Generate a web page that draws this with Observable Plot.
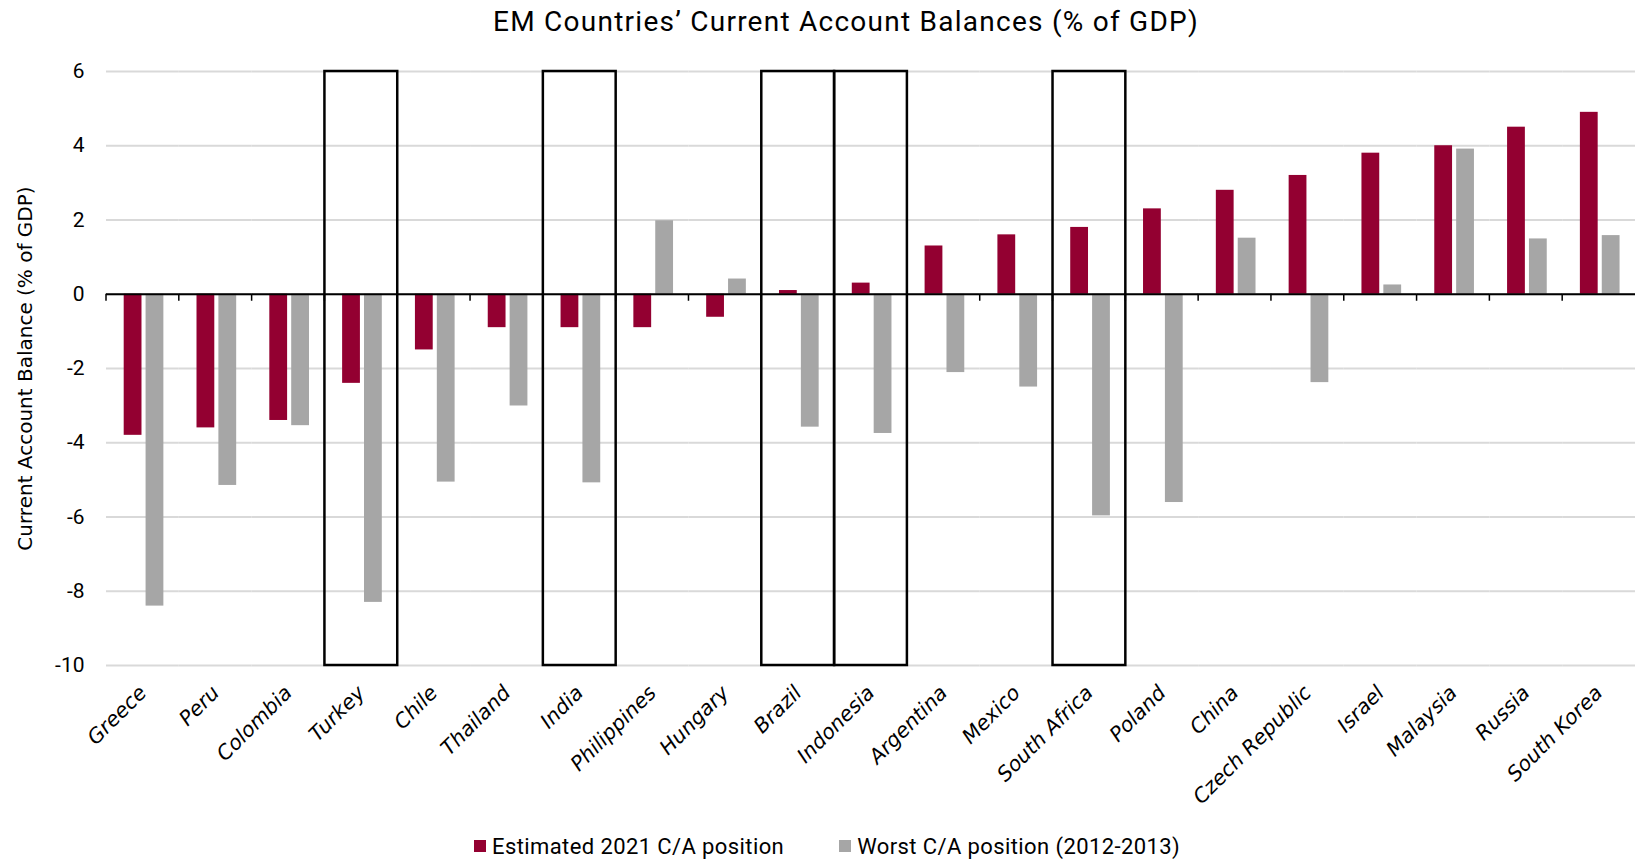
<!DOCTYPE html>
<html>
<head>
<meta charset="utf-8">
<script src="https://cdn.jsdelivr.net/npm/d3@7"></script>
<script src="https://cdn.jsdelivr.net/npm/@observablehq/plot@0.6"></script>
<style>
  body { margin: 0; background: #fff; }
  #title { height: 42px; line-height: 44px; font-family: Roboto, sans-serif; font-size: 28px; letter-spacing: 1.25px; color: #000; text-align: center; padding-left: 57px; width: 1578px; white-space: nowrap; }
  #legend { height: 42px; display: flex; align-items: center; padding-left: 474px; font-family: Roboto, sans-serif; font-size: 22px; letter-spacing: 0.4px; color: #000; }
  .sw { width: 12px; height: 12px; display: inline-block; margin-right: 6px; }
  .item { display: flex; align-items: center; }
</style>
</head>
<body>
<div id="title">EM Countries’ Current Account Balances (% of GDP)</div>
<div id="chart"></div>
<div id="legend"></div>
<script>
const countries = ["Greece", "Peru", "Colombia", "Turkey", "Chile", "Thailand", "India", "Philippines", "Hungary", "Brazil", "Indonesia", "Argentina", "Mexico", "South Africa", "Poland", "China", "Czech Republic", "Israel", "Malaysia", "Russia", "South Korea"];
const estimated2021 = [-3.8, -3.6, -3.4, -2.4, -1.5, -0.9, -0.9, -0.9, -0.62, 0.1, 0.3, 1.3, 1.6, 1.8, 2.3, 2.8, 3.2, 3.8, 4.0, 4.5, 4.9];
const worst20122013 = [-8.4, -5.15, -3.54, -8.3, -5.06, -3.01, -5.08, 1.98, 0.41, -3.58, -3.75, -2.11, -2.5, -5.97, -5.61, 1.51, -2.38, 0.25, 3.91, 1.49, 1.58];
const highlighted = ["Turkey", "India", "Brazil", "Indonesia", "South Africa"];
const yTicks = [-10, -8, -6, -4, -2, 0, 2, 4, 6];
const seriesNames = ["Estimated 2021 C/A position", "Worst C/A position (2012-2013)"];
const seriesColors = ["#930031", "#a6a6a6"];
const yLabel = "Current Account Balance (% of GDP)";

const data = countries.flatMap((c, i) => [
  {country: c, series: seriesNames[0], value: estimated2021[i]},
  {country: c, series: seriesNames[1], value: worst20122013[i]}
]);

// small downward tick at the left edge of every country band, on the zero line
const zeroTicks = (index, scales, values, dimensions) => {
  const y0 = scales.y(0);
  const x0 = dimensions.marginLeft;
  return d3.create("svg:line")
    .attr("x1", x0).attr("x2", x0)
    .attr("y1", y0).attr("y2", y0 + 7)
    .attr("stroke", "black").attr("stroke-width", 1.5)
    .node();
};

const chart = Plot.plot({
  width: 1635,
  height: 783,
  marginTop: 29,
  marginBottom: 160,
  marginLeft: 106,
  marginRight: 0,
  style: {background: "white", fontFamily: "Roboto", overflow: "visible"},
  fx: {domain: countries, padding: 0, round: false, label: null},
  x: {domain: seriesNames, paddingInner: 0.187, paddingOuter: 0.757, align: 0.534, round: false, axis: null},
  y: {domain: [yTicks[0], yTicks[yTicks.length - 1]], label: null},
  color: {domain: seriesNames, range: seriesColors},
  marks: [
    Plot.gridY(yTicks, {stroke: "#d9d9d9", strokeOpacity: 1, strokeWidth: 2}),
    Plot.barY(data, {fx: "country", x: "series", y: "value", fill: "series"}),
    Plot.ruleY([0], {stroke: "black", strokeWidth: 2}),
    zeroTicks,
    Plot.rect(highlighted, {fx: d => d, y1: yTicks[0], y2: yTicks[yTicks.length - 1], fill: "none", stroke: "black", strokeWidth: 2.5}),
    Plot.axisY(yTicks, {tickSize: 0, tickPadding: 22, tickFormat: d => String(d), fontSize: 21, fontFamily: "Roboto", fill: "black", label: null}),
    Plot.axisY({ticks: [], tickSize: 0, fontSize: 20, fontFamily: "DejaVu Sans", fill: "black", label: yLabel, labelAnchor: "center", labelOffset: 89, labelArrow: "none"}),
    Plot.axisFx({anchor: "bottom", tickSize: 0, tickPadding: 24, tickRotate: -45, fontSize: 20.5, fontFamily: "DejaVu Sans", fontStyle: "oblique", fill: "black", label: null})
  ]
});
document.getElementById("chart").appendChild(chart);

const legend = d3.select("#legend");
seriesNames.forEach((s, i) => {
  const item = legend.append("div").attr("class", "item").style("margin-right", i === 0 ? "55px" : "0px");
  item.append("span").attr("class", "sw").style("background", seriesColors[i]);
  item.append("span").text(s);
});
</script>
</body>
</html>
